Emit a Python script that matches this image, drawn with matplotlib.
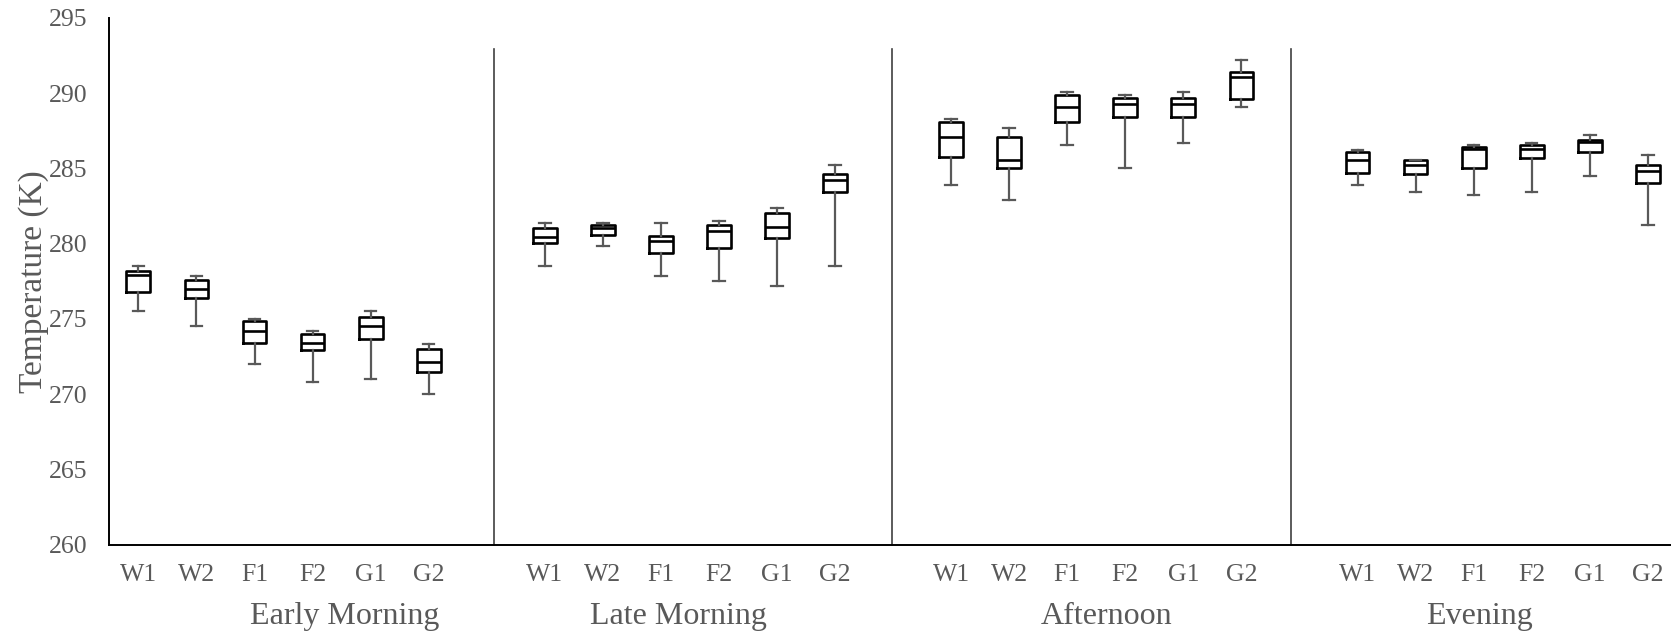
import numpy as np
import matplotlib.pyplot as plt
from matplotlib.transforms import blended_transform_factory

# time-of-day periods and measurement sites
periods = ['Early Morning', 'Late Morning', 'Afternoon', 'Evening']
sites = ['W1', 'W2', 'F1', 'F2', 'G1', 'G2']

# box-plot statistics (K), one row per period, one value per site
whisker_low = [
    [275.5, 274.5, 272.0, 270.8, 271.0, 270.0],
    [278.5, 279.85, 277.85, 277.5, 277.2, 278.5],
    [283.9, 282.9, 286.55, 285.05, 286.7, 289.05],
    [283.9, 283.4, 283.2, 283.4, 284.5, 281.2],
]
q1 = [
    [276.8, 276.35, 273.4, 272.95, 273.65, 271.45],
    [280.05, 280.6, 279.35, 279.7, 280.4, 283.4],
    [285.75, 285.05, 288.05, 288.4, 288.4, 289.6],
    [284.7, 284.6, 285.05, 285.7, 286.1, 284.05],
]
median = [
    [277.9, 277.0, 274.2, 273.4, 274.5, 272.15],
    [280.45, 281.0, 280.2, 280.85, 281.1, 284.2],
    [287.05, 285.55, 289.05, 289.25, 289.25, 291.05],
    [285.55, 285.2, 286.25, 286.3, 286.75, 284.85],
]
q3 = [
    [278.2, 277.6, 274.85, 274.0, 275.15, 273.0],
    [281.0, 281.2, 280.5, 281.2, 282.05, 284.65],
    [288.05, 287.05, 289.9, 289.7, 289.7, 291.4],
    [286.05, 285.55, 286.4, 286.55, 286.85, 285.2],
]
whisker_high = [
    [278.5, 277.85, 275.0, 274.2, 275.5, 273.3],
    [281.35, 281.35, 281.35, 281.5, 282.35, 285.2],
    [288.25, 287.7, 290.05, 289.9, 290.05, 292.2],
    [286.2, 285.55, 286.55, 286.7, 287.2, 285.85],
]

# layout of the grouped category axis
group_step = 7
divider_x = [6.13, 12.98, 19.85]
period_label_x = [3.55, 9.31, 16.67, 23.1]

plt.rcParams['font.family'] = ['Liberation Serif', 'DejaVu Serif']
grey = '#595959'

fig = plt.figure(figsize=(16.71, 6.34), dpi=100)
ax = fig.add_axes([0.065, 0.141, 0.935, 0.831])

stats = []
positions = []
for g in range(len(periods)):
    for s in range(len(sites)):
        stats.append(dict(med=median[g][s], q1=q1[g][s], q3=q3[g][s],
                          whislo=whisker_low[g][s], whishi=whisker_high[g][s],
                          fliers=[]))
        positions.append(g * group_step + s)

ax.bxp(stats, positions=positions, widths=0.41, showfliers=False,
       boxprops=dict(color='black', linewidth=1.9),
       medianprops=dict(color='black', linewidth=1.9),
       whiskerprops=dict(color=grey, linewidth=1.6),
       capprops=dict(color=grey, linewidth=1.6),
       capwidths=0.2)

for x in divider_x:
    ax.plot([x, x], [260, 292.9], color='#404040', linewidth=1.2, clip_on=False)

ax.set_xlim(-0.513, 26.4)
ax.set_ylim(260, 295)
ax.set_yticks(np.arange(260, 296, 5))
ax.set_xticks(positions)
ax.set_xticklabels(sites * len(periods))
ax.tick_params(length=0, labelsize=18.5, labelcolor=grey)
ax.tick_params(axis='x', pad=14)
ax.tick_params(axis='y', pad=15)

for side in ['top', 'right']:
    ax.spines[side].set_visible(False)
for side in ['left', 'bottom']:
    ax.spines[side].set_linewidth(1.4)
    ax.spines[side].set_color('black')

ax.set_ylabel('Temperature (K)', fontsize=24, color=grey, labelpad=0)

trans = blended_transform_factory(ax.transData, ax.transAxes)
for x, name in zip(period_label_x, periods):
    ax.text(x, -0.137, name, transform=trans, ha='center', va='center',
            fontsize=23, color=grey)

fig.savefig('out.png', dpi=100)
